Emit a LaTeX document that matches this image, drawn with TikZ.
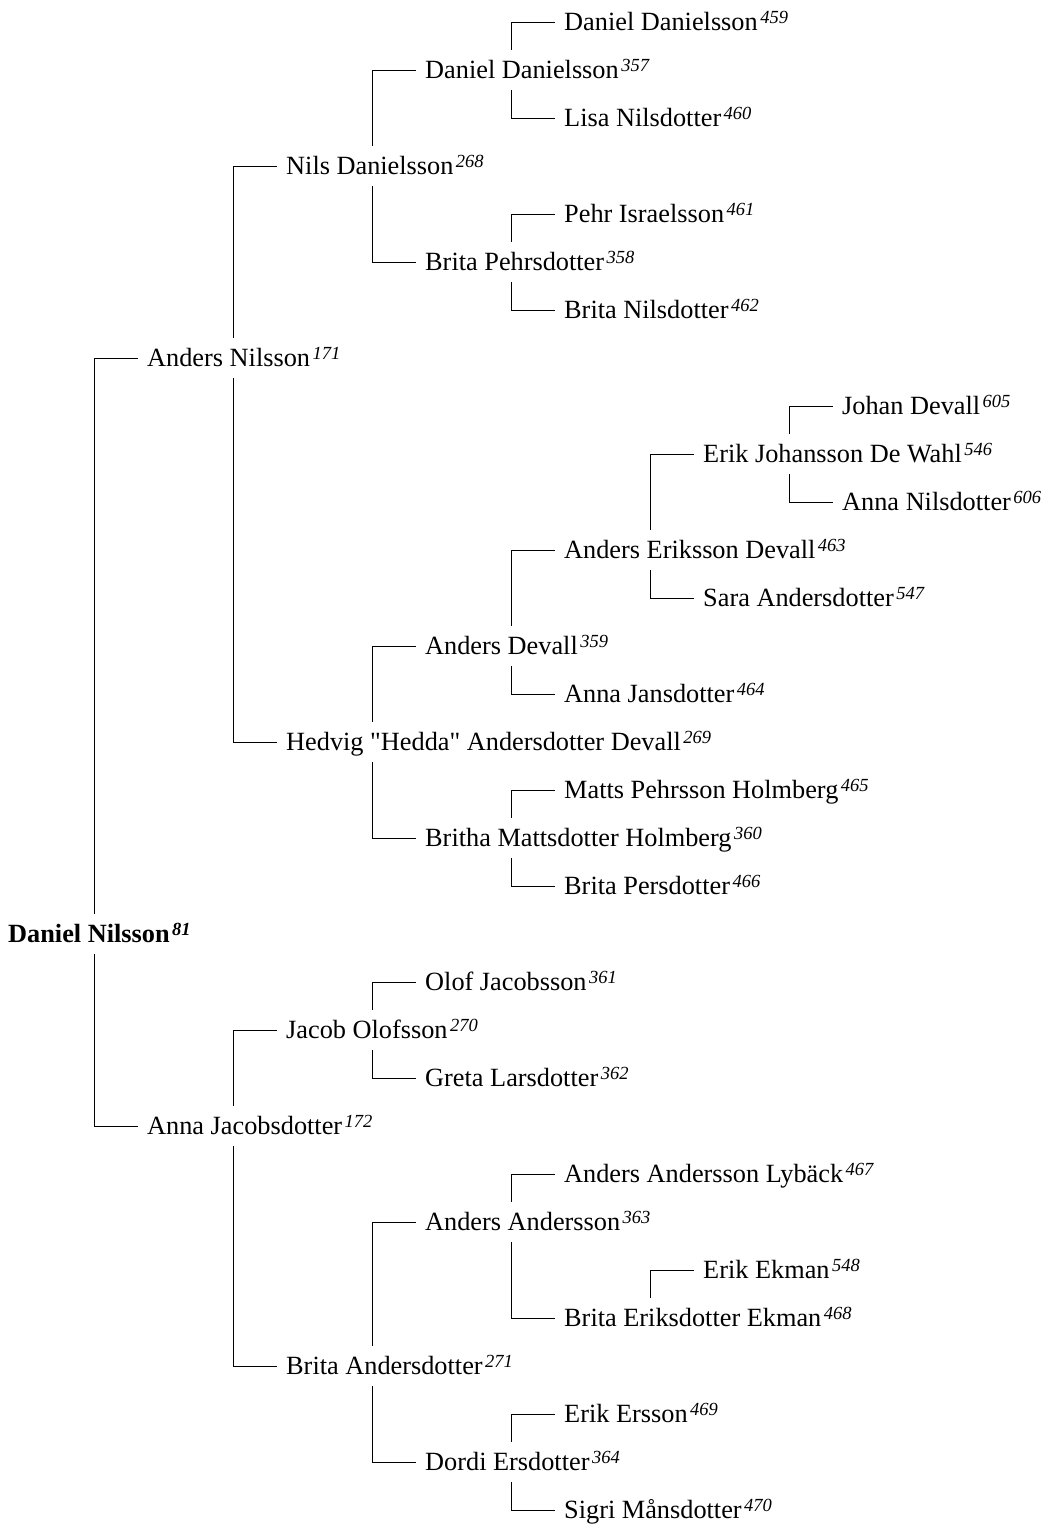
\documentclass[tikz,border=0pt]{standalone}
\usepackage{fontspec}
\setmainfont{Liberation Serif}
\usetikzlibrary{calc}
\newcommand{\persn}[2]{#1\kern2.5pt\raisebox{7pt}{\fontsize{18.5pt}{18pt}\selectfont\itshape #2}}
\tikzset{
  person/.style={anchor=west, inner sep=0pt, text height=28.7pt, text depth=11.3pt,
    font=\fontsize{26.3pt}{30pt}\selectfont},
  link/.style={draw=black, line width=1pt}
}
\begin{document}
\begin{tikzpicture}[x=1pt,y=-1pt]
\useasboundingbox (0,0) rectangle (1047,1526);
\node[person] (n0)  at (564,22)   {\persn{Daniel Danielsson}{459}};
\node[person] (n1)  at (425,70)   {\persn{Daniel Danielsson}{357}};
\node[person] (n2)  at (564,118)  {\persn{Lisa Nilsdotter}{460}};
\node[person] (n3)  at (286,166)  {\persn{Nils Danielsson}{268}};
\node[person] (n4)  at (564,214)  {\persn{Pehr Israelsson}{461}};
\node[person] (n5)  at (425,262)  {\persn{Brita Pehrsdotter}{358}};
\node[person] (n6)  at (564,310)  {\persn{Brita Nilsdotter}{462}};
\node[person] (n7)  at (147,358)  {\persn{Anders Nilsson}{171}};
\node[person] (n8)  at (842,406)  {\persn{Johan Devall}{605}};
\node[person] (n9)  at (703,454)  {\persn{Erik Johansson De Wahl}{546}};
\node[person] (n10) at (842,502)  {\persn{Anna Nilsdotter}{606}};
\node[person] (n11) at (564,550)  {\persn{Anders Eriksson Devall}{463}};
\node[person] (n12) at (703,598)  {\persn{Sara Andersdotter}{547}};
\node[person] (n13) at (425,646)  {\persn{Anders Devall}{359}};
\node[person] (n14) at (564,694)  {\persn{Anna Jansdotter}{464}};
\node[person] (n15) at (286,742)  {\persn{Hedvig \textquotedbl Hedda\textquotedbl{} Andersdotter Devall}{269}};
\node[person] (n16) at (564,790)  {\persn{Matts Pehrsson Holmberg}{465}};
\node[person] (n17) at (425,838)  {\persn{Britha Mattsdotter Holmberg}{360}};
\node[person] (n18) at (564,886)  {\persn{Brita Persdotter}{466}};
\node[person] (n19) at (8,934)    {\bfseries\persn{Daniel Nilsson}{81}};
\node[person] (n20) at (425,982)  {\persn{Olof Jacobsson}{361}};
\node[person] (n21) at (286,1030) {\persn{Jacob Olofsson}{270}};
\node[person] (n22) at (425,1078) {\persn{Greta Larsdotter}{362}};
\node[person] (n23) at (147,1126) {\persn{Anna Jacobsdotter}{172}};
\node[person] (n24) at (564,1174) {\persn{Anders Andersson Lybäck}{467}};
\node[person] (n25) at (425,1222) {\persn{Anders Andersson}{363}};
\node[person] (n26) at (703,1270) {\persn{Erik Ekman}{548}};
\node[person] (n27) at (564,1318) {\persn{Brita Eriksdotter Ekman}{468}};
\node[person] (n28) at (286,1366) {\persn{Brita Andersdotter}{271}};
\node[person] (n29) at (564,1414) {\persn{Erik Ersson}{469}};
\node[person] (n30) at (425,1462) {\persn{Dordi Ersdotter}{364}};
\node[person] (n31) at (564,1510) {\persn{Sigri Månsdotter}{470}};
\foreach \p/\c/\s in {19/7/north west,19/23/south west,
  7/3/north west,7/15/south west,3/1/north west,3/5/south west,
  1/0/north west,1/2/south west,5/4/north west,5/6/south west,
  15/13/north west,15/17/south west,13/11/north west,13/14/south west,
  11/9/north west,11/12/south west,9/8/north west,9/10/south west,
  17/16/north west,17/18/south west,
  23/21/north west,23/28/south west,21/20/north west,21/22/south west,
  28/25/north west,28/30/south west,25/24/north west,25/27/south west,
  27/26/north west,30/29/north west,30/31/south west}
  \draw[link] ($(n\p.\s)+(86,0)$) |- ($(n\c.west)+(-9,0)$);
\end{tikzpicture}
\end{document}
